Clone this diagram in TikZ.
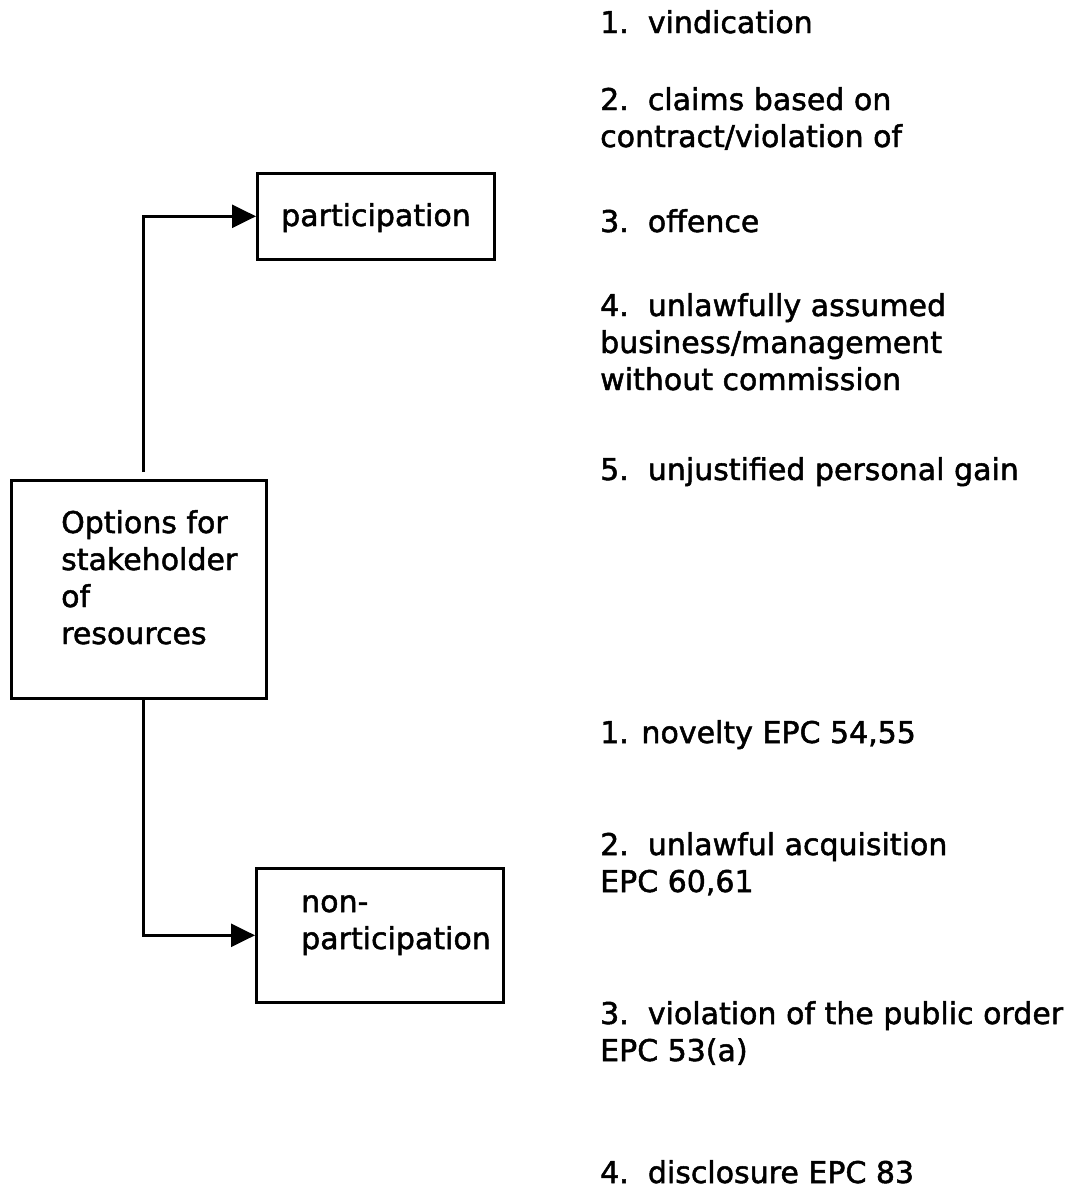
\documentclass[tikz,border=0pt]{standalone}
\usepackage{fontspec}
\setmainfont[FakeBold=1.6]{DejaVu Sans}
\usetikzlibrary{arrows.meta,positioning}

\begin{document}
\begin{tikzpicture}[x=1pt,y=-1pt,
  box/.style={draw,line width=2.6pt,inner sep=0pt},
  txt/.style={inner sep=0pt,align=left,anchor=base west,font=\fontsize{30}{37}\selectfont},
  arr/.style={line width=2.6pt,-{Triangle[length=24pt,width=23pt]}}]

\useasboundingbox (0,0) rectangle (1072,1189);

% boxes
\node[box,anchor=north west,minimum width=255pt,minimum height=218pt] (opt) at (10,479) {};
\node[box,anchor=north west,minimum width=237pt,minimum height=86pt] (part) at (256,172) {};
\node[box,anchor=north west,minimum width=247pt,minimum height=134pt] (non) at (255,867) {};

% texts in the boxes (base = last line)
\node[txt] (optT) at (61,644) {Options for\\stakeholder\\of\\resources};
\node[txt] (partT) at (281,226) {participation};
\node[txt] (nonT) at (301,949) {non-\\participation};

% right column
\foreach \n/\y/\t in {
  a/33/{1.\ \ vindication},
  b/147/{2.\ \ claims based on\\contract/violation of},
  c/232/{3.\ \ offence},
  d/390/{4.\ \ unlawfully assumed\\business/management\\without commission},
  e/480/{5.\ \ unjustified personal gain},
  f/743/{1. novelty EPC 54,55},
  g/892/{2.\ \ unlawful acquisition\\EPC 60,61},
  h/1061/{3.\ \ violation of the public order\\EPC 53(a)},
  i/1183/{4.\ \ disclosure EPC 83}}
	\node[txt] (item\n) at (600,\y) {\t};

% arrows
\draw[arr] ([xshift=4.5pt,yshift=7pt]opt.north) |- (part.west);
\draw[arr] ([xshift=4.5pt]opt.south) |- (non.west);
\end{tikzpicture}
\end{document}
